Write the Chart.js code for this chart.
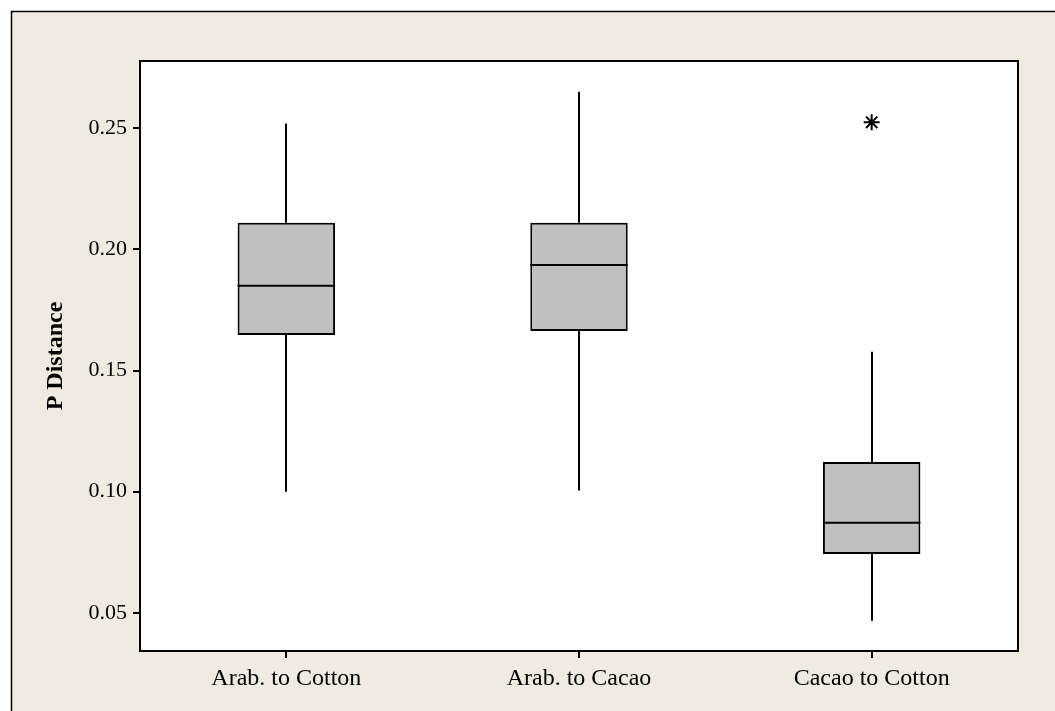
<!DOCTYPE html>
<html>
<head>
<meta charset="utf-8">
<script src="https://cdn.jsdelivr.net/npm/chart.js@4/dist/chart.umd.min.js"></script>
<style>
  html, body { margin: 0; padding: 0; background: #ffffff; }
  #wrap { width: 1055px; height: 711px; }
</style>
</head>
<body>
<div id="wrap"><canvas id="boxChart"></canvas></div>
<script>
const labels = ['Arab. to Cotton', 'Arab. to Cacao', 'Cacao to Cotton'];
const whiskerLow = [0.100, 0.1005, 0.0467];
const q1 = [0.1647, 0.1663, 0.0742];
const median = [0.185, 0.1936, 0.0872];
const q3 = [0.211, 0.211, 0.1122];
const whiskerHigh = [0.252, 0.2651, 0.1578];
const outliers = [null, null, 0.2525];
const yTicks = [0.05, 0.10, 0.15, 0.20, 0.25];

const frameColor = '#EFEBE1';

// beige frame + white plot area behind everything
const framePlugin = {
    id: 'framePlugin',
    beforeDraw(chart) {
        const ctx = chart.ctx;
        const a = chart.chartArea;
        ctx.save();
        ctx.fillStyle = frameColor;
        ctx.fillRect(11, 11, chart.width - 11, chart.height - 11);
        ctx.strokeStyle = '#000';
        ctx.lineWidth = 1.5;
        ctx.beginPath();
        ctx.moveTo(11.5, chart.height);
        ctx.lineTo(11.5, 11.5);
        ctx.lineTo(chart.width, 11.5);
        ctx.stroke();
        ctx.fillStyle = '#ffffff';
        ctx.fillRect(a.left, a.top, a.right - a.left, a.bottom - a.top);
        ctx.restore();
    },
    afterDraw(chart) {
        const ctx = chart.ctx;
        const a = chart.chartArea;
        ctx.save();
        ctx.strokeStyle = '#000';
        ctx.lineWidth = 2;
        ctx.strokeRect(a.left, a.top, a.right - a.left, a.bottom - a.top);
        ctx.restore();
    }
};

// whiskers and median lines, placed with the chart's scales
const boxLines = {
    id: 'boxLines',
    afterDatasetsDraw(chart) {
        const ctx = chart.ctx;
        const y = chart.scales.y;
        const meta = chart.getDatasetMeta(0);
        ctx.save();
        ctx.strokeStyle = '#000';
        ctx.lineWidth = 2;
        meta.data.forEach((bar, i) => {
            const x = Math.round(bar.x);
            ctx.beginPath();
            ctx.moveTo(x, y.getPixelForValue(whiskerLow[i]));
            ctx.lineTo(x, y.getPixelForValue(q1[i]));
            ctx.moveTo(x, y.getPixelForValue(q3[i]));
            ctx.lineTo(x, y.getPixelForValue(whiskerHigh[i]));
            const m = y.getPixelForValue(median[i]);
            ctx.moveTo(bar.x - bar.width / 2, m);
            ctx.lineTo(bar.x + bar.width / 2, m);
            ctx.stroke();
        });
        ctx.restore();
    }
};

const serif = "'Liberation Serif', 'Times New Roman', serif";

new Chart(document.getElementById('boxChart'), {
    data: {
        labels: labels,
        datasets: [{
            type: 'bar',
            label: 'IQR',
            data: labels.map((_, i) => [q1[i], q3[i]]),
            backgroundColor: '#C0C0C0',
            borderColor: '#000',
            borderWidth: 2,
            borderSkipped: false,
            categoryPercentage: 1,
            barPercentage: 0.333,
            order: 2
        }, {
            type: 'line',
            label: 'Outlier',
            data: outliers,
            showLine: false,
            pointStyle: 'star',
            pointRadius: 8,
            borderColor: '#000',
            borderWidth: 2,
            order: 1
        }]
    },
    options: {
        responsive: true,
        maintainAspectRatio: false,
        animation: false,
        layout: { padding: { top: 61, right: 37, left: 0, bottom: 0 } },
        plugins: {
            legend: { display: false },
            tooltip: { enabled: false }
        },
        scales: {
            x: {
                type: 'category',
                offset: true,
                grid: { display: true, offset: false, drawOnChartArea: false, drawTicks: true, tickLength: 7, color: '#000', lineWidth: 2 },
                border: { display: false },
                ticks: { color: '#000', font: { family: serif, size: 24 }, padding: 6, maxRotation: 0 },
                afterFit(scale) { scale.height = 60; }
            },
            y: {
                type: 'linear',
                min: 0.0342,
                max: 0.2778,
                grid: { display: true, drawOnChartArea: false, drawTicks: true, tickLength: 7, color: '#000', lineWidth: 2 },
                border: { display: false },
                afterBuildTicks(scale) { scale.ticks = yTicks.map(v => ({ value: v })); },
                ticks: {
                    color: '#000',
                    font: { family: serif, size: 22 },
                    padding: 6,
                    callback: v => Number(v).toFixed(2)
                },
                title: {
                    display: true,
                    text: 'P Distance',
                    color: '#000',
                    font: { family: serif, size: 24, weight: 'bold' },
                    padding: { top: 41, bottom: 0 }
                },
                afterFit(scale) { scale.width = 140; }
            }
        }
    },
    plugins: [framePlugin, boxLines]
});
</script>
</body>
</html>
